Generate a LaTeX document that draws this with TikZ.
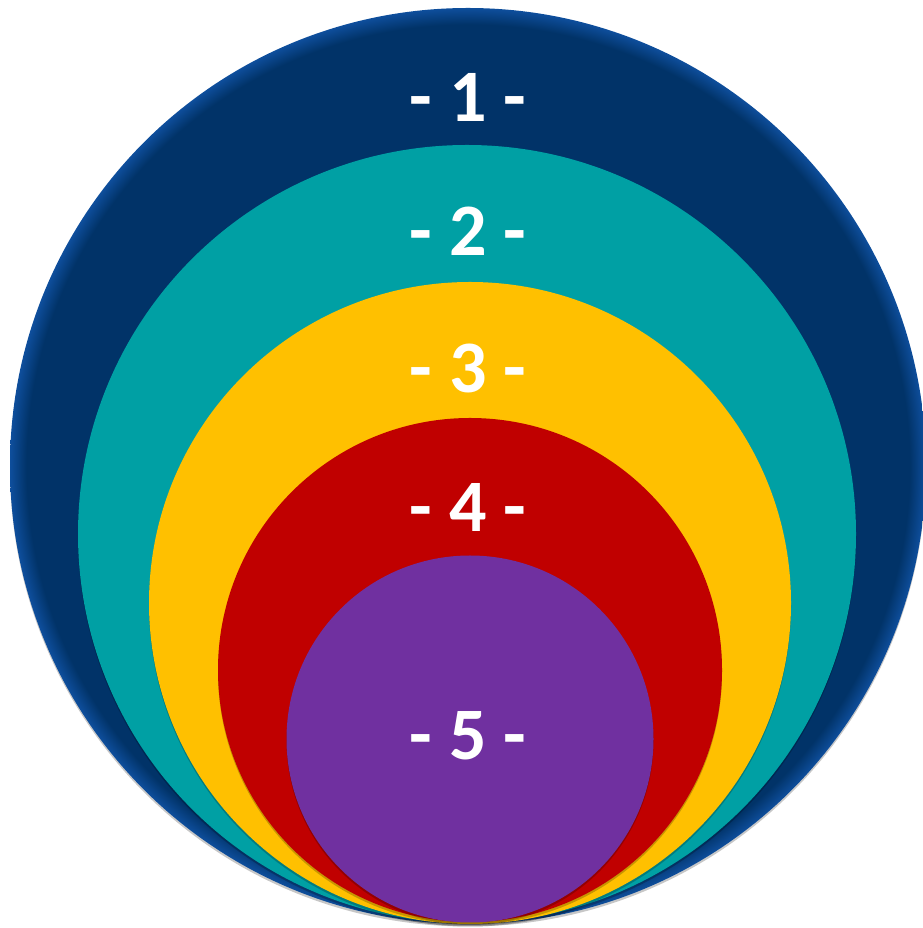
\documentclass[tikz,border=0pt]{standalone}
\usepackage{fontspec}
\setmainfont{Carlito}
\usetikzlibrary{shadows}

\definecolor{ringA}{RGB}{1,51,104}
\definecolor{ringArim}{RGB}{14,78,156}
\definecolor{ringB}{RGB}{0,160,164}
\definecolor{ringC}{RGB}{255,192,0}
\definecolor{ringD}{RGB}{192,0,0}
\definecolor{ringE}{RGB}{112,48,160}

\pgfdeclareradialshading{rimA}{\pgfpoint{0bp}{0bp}}{%
  color(0bp)=(ringA); color(24.1bp)=(ringA); color(25bp)=(ringArim); color(50bp)=(ringArim)}

\begin{document}
\begin{tikzpicture}[
  x=1pt,y=1pt,
  disc/.style={circle,inner sep=0pt,outer sep=0pt,draw=none},
  soft/.style={drop shadow={shadow xshift=0pt,shadow yshift=-2.5pt,opacity=0.22,fill=black}},
  lab/.style={text=white,inner sep=0pt,font=\fontsize{74}{74}\selectfont\bfseries},
]
  \useasboundingbox (0,0) rectangle (922,928);
  % ============ rings, outer to inner ============
  \node[disc,soft,shading=rimA,minimum size=916] (c1) at (468,462) {};
  \node[disc,soft,fill=ringB,minimum size=778] (c2) at (467,394) {};
  \node[disc,soft,fill=ringC,minimum size=642] (c3) at (470,325) {};
  \node[disc,soft,fill=ringD,minimum size=504] (c4) at (470,258) {};
  \node[disc,soft,fill=ringE,minimum size=367] (c5) at (470,189) {};
  % ============ labels ============
  \node[lab] (l1) at (468,831) {- 1 -};
  \node[lab] (l2) at (468,697) {- 2 -};
  \node[lab] (l3) at (468,560) {- 3 -};
  \node[lab] (l4) at (468,421) {- 4 -};
  \node[lab] (l5) at (468,192) {- 5 -};
\end{tikzpicture}
\end{document}
